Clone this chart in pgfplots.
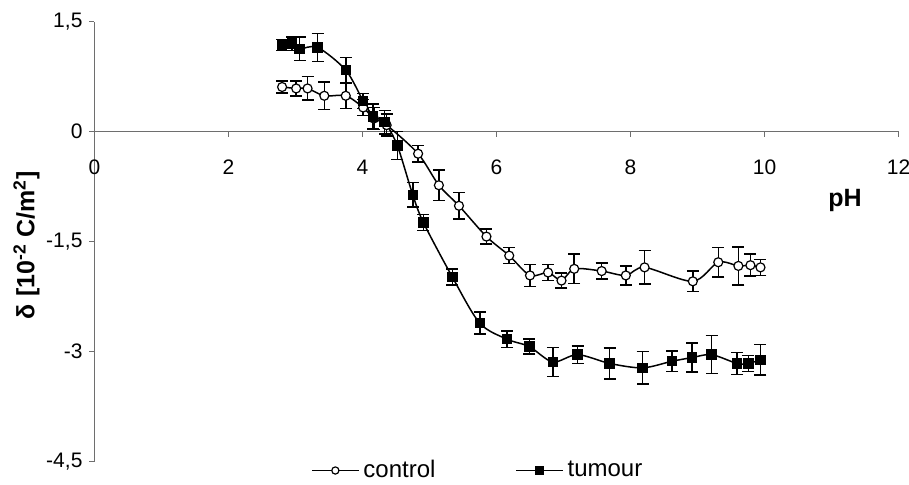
\documentclass[border=0pt]{standalone}
\usepackage{pgfplots}
\pgfplotsset{compat=1.18}
\usepackage{pgfplotstable}
\usepackage{fontspec}
\setmainfont{Liberation Sans}
\definecolor{axgray}{RGB}{110,110,110}

\pgfplotstableread{
x y e
2.80 1.18 0.075
2.95 1.20 0.09
3.06 1.13 0.16
3.33 1.15 0.19
3.75 0.84 0.17
4.01 0.42 0.10
4.16 0.21 0.17
4.33 0.13 0.16
4.52 -0.19 0.19
4.75 -0.86 0.17
4.91 -1.24 0.11
5.34 -1.98 0.11
5.75 -2.61 0.15
6.16 -2.83 0.11
6.49 -2.93 0.10
6.84 -3.14 0.20
7.21 -3.04 0.12
7.69 -3.16 0.21
8.18 -3.22 0.22
8.62 -3.13 0.14
8.92 -3.08 0.20
9.21 -3.04 0.26
9.59 -3.16 0.15
9.76 -3.16 0.11
9.94 -3.11 0.21
}\tumour

\pgfplotstableread{
x y e
2.80 0.61 0.08
3.01 0.59 0.10
3.18 0.59 0.16
3.43 0.49 0.19
3.75 0.49 0.17
4.01 0.33 0.11
4.17 0.18 0.15
4.36 0.09 0.15
4.83 -0.30 0.11
5.14 -0.73 0.21
5.44 -1.01 0.18
5.85 -1.43 0.10
6.19 -1.69 0.11
6.50 -1.96 0.15
6.77 -1.92 0.11
6.97 -2.03 0.10
7.16 -1.87 0.20
7.57 -1.90 0.11
7.93 -1.96 0.13
8.21 -1.85 0.23
8.93 -2.04 0.14
9.31 -1.78 0.20
9.61 -1.83 0.26
9.79 -1.82 0.15
9.94 -1.85 0.11
}\control

\begin{document}
\begin{tikzpicture}
\useasboundingbox (-47.25pt,-11.15pt) rectangle (407.25pt,230.85pt);
\begin{axis}[
  scale only axis,
  width=402pt, height=220pt,
  xmin=0, xmax=12, ymin=-4.5, ymax=1.5,
  axis x line*=middle, axis y line*=left,
  hide obscured x ticks=false, hide obscured y ticks=false,
  axis line style={axgray, line width=0.6pt},
  every tick/.style={axgray, line width=0.6pt},
  tick align=outside, major tick length=2.5pt,
  xtick={0,2,4,6,8,10,12},
  ytick={-4.5,-3,-1.5,0,1.5},
  yticklabels={{-4,5},{-3},{-1,5},{0},{1,5}},
  /pgf/number format/assume math mode=true,
  tick label style={font=\fontsize{10.5}{12}\selectfont, black},
  xticklabel style={yshift=-8pt},
  clip=false,
  xlabel={\textbf{pH}},
  xlabel style={at={(axis description cs:0.9335,0.594)}, anchor=center, font=\fontsize{12.5}{14}\selectfont},
  ylabel={\textbf{δ [10\textsuperscript{-2} C/m\textsuperscript{2}]}},
  ylabel style={at={(axis description cs:-0.0846,0.4925)}, anchor=center, rotate=0, font=\fontsize{12.5}{14}\selectfont},
  legend style={at={(axis description cs:0.478,-0.02)}, anchor=center, draw=none, fill=none,
    legend columns=2, font=\fontsize{12}{13}\selectfont,
    /tikz/every even column/.append style={column sep=38pt}},
  legend image code/.code={\draw[mark repeat=2,mark phase=2,every mark/.append style={scale=0.8}] plot coordinates {(0cm,0cm)(0.41cm,0cm)(0.82cm,0cm)};},
]
\addplot[black, line width=0.75pt, smooth, mark=*, mark size=2.25pt,
  mark options={fill=white, draw=black, line width=0.6pt},
  error bars/.cd, y dir=both, y explicit,
  error bar style={line width=0.75pt, black},
  error mark options={mark size=3pt, line width=0.75pt, black, rotate=90}]
  table[x=x, y=y, y error=e] {\control};
\addlegendentry{control}
\addplot[black, line width=0.75pt, smooth, mark=square*, mark size=2.25pt,
  mark options={fill=black, draw=black},
  error bars/.cd, y dir=both, y explicit,
  error bar style={line width=0.75pt, black},
  error mark options={mark size=3pt, line width=0.75pt, black, rotate=90}]
  table[x=x, y=y, y error=e] {\tumour};
\addlegendentry{tumour}
\end{axis}
\end{tikzpicture}
\end{document}
